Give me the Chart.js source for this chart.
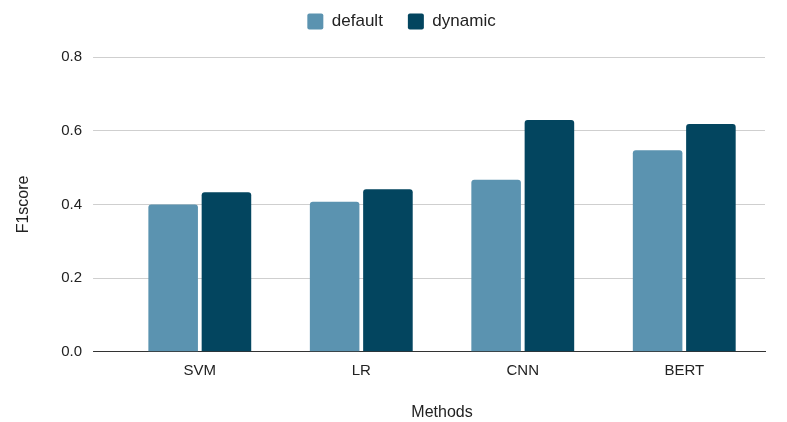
<!DOCTYPE html>
<html>
<head>
<meta charset="utf-8">
<script src="https://cdn.jsdelivr.net/npm/chart.js@4/dist/chart.umd.min.js"></script>
<style>
  html, body { margin: 0; padding: 0; background: #ffffff; }
  #wrap { width: 787px; height: 422px; position: relative; }
</style>
</head>
<body>
<div id="wrap"><canvas id="c" width="787" height="422"></canvas></div>
<script>
const categories = ["SVM", "LR", "CNN", "BERT"];
const defaultValues = [0.400, 0.407, 0.467, 0.547];
const dynamicValues = [0.433, 0.441, 0.629, 0.618];
const yTicks = [0, 0.2, 0.4, 0.6, 0.8];
const seriesNames = ["default", "dynamic"];

const FONT = "'Liberation Sans', Arial, sans-serif";

const legendPlace = {
  id: 'legendPlace',
  beforeInit(chart) {
    const orig = chart.legend.fit;
    chart.legend.fit = function () {
      orig.bind(chart.legend)();
      this.height = 56;
    };
  },
  afterLayout(chart) {
    const lg = chart.legend;
    lg.left += 12; lg.right += 12;
    lg.top -= 13; lg.bottom -= 13;
  }
};

new Chart(document.getElementById('c'), {
  type: 'bar',
  plugins: [legendPlace],
  data: {
    labels: categories,
    datasets: [
      {
        label: seriesNames[0],
        data: defaultValues,
        backgroundColor: '#5b93b0',
        borderRadius: { topLeft: 3, topRight: 3 },
        borderSkipped: 'bottom',
        barPercentage: 0.93,
        categoryPercentage: 0.66
      },
      {
        label: seriesNames[1],
        data: dynamicValues,
        backgroundColor: '#03455f',
        borderRadius: { topLeft: 3, topRight: 3 },
        borderSkipped: 'bottom',
        barPercentage: 0.93,
        categoryPercentage: 0.66
      }
    ]
  },
  options: {
    responsive: false,
    animation: false,
    devicePixelRatio: 1,
    layout: { padding: { left: 14, right: 22, top: 1, bottom: 0 } },
    plugins: {
      legend: {
        position: 'top',
        align: 'center',
        labels: {
          font: { family: FONT, size: 17 },
          color: '#222',
          boxWidth: 16,
          boxHeight: 16,
          useBorderRadius: true,
          borderRadius: 2,
          padding: 25
        }
      },
      tooltip: { enabled: false }
    },
    scales: {
      x: {
        grid: { display: false, drawTicks: false },
        border: { display: true, color: '#333', width: 1 },
        ticks: { font: { family: FONT, size: 15 }, color: '#222', padding: 10 },
        title: {
          display: true,
          text: 'Methods',
          font: { family: FONT, size: 16 },
          color: '#222',
          padding: { top: 13, bottom: 0 }
        }
      },
      y: {
        min: 0,
        max: 0.8,
        afterBuildTicks: (axis) => { axis.ticks = yTicks.map(v => ({ value: v })); },
        grid: {
          color: (ctx) => (ctx.tick && ctx.tick.value === 0) ? '#333' : '#cfcfcf',
          lineWidth: 1,
          drawTicks: true,
          tickLength: 26
        },
        border: { display: false },
        ticks: {
          font: { family: FONT, size: 15 },
          color: '#222',
          padding: 11,
          callback: (v) => Number(v).toFixed(1)
        },
        title: {
          display: true,
          text: 'F1score',
          font: { family: FONT, size: 16 },
          color: '#222',
          padding: { top: 0, bottom: 17 }
        }
      }
    }
  }
});
</script>
</body>
</html>
